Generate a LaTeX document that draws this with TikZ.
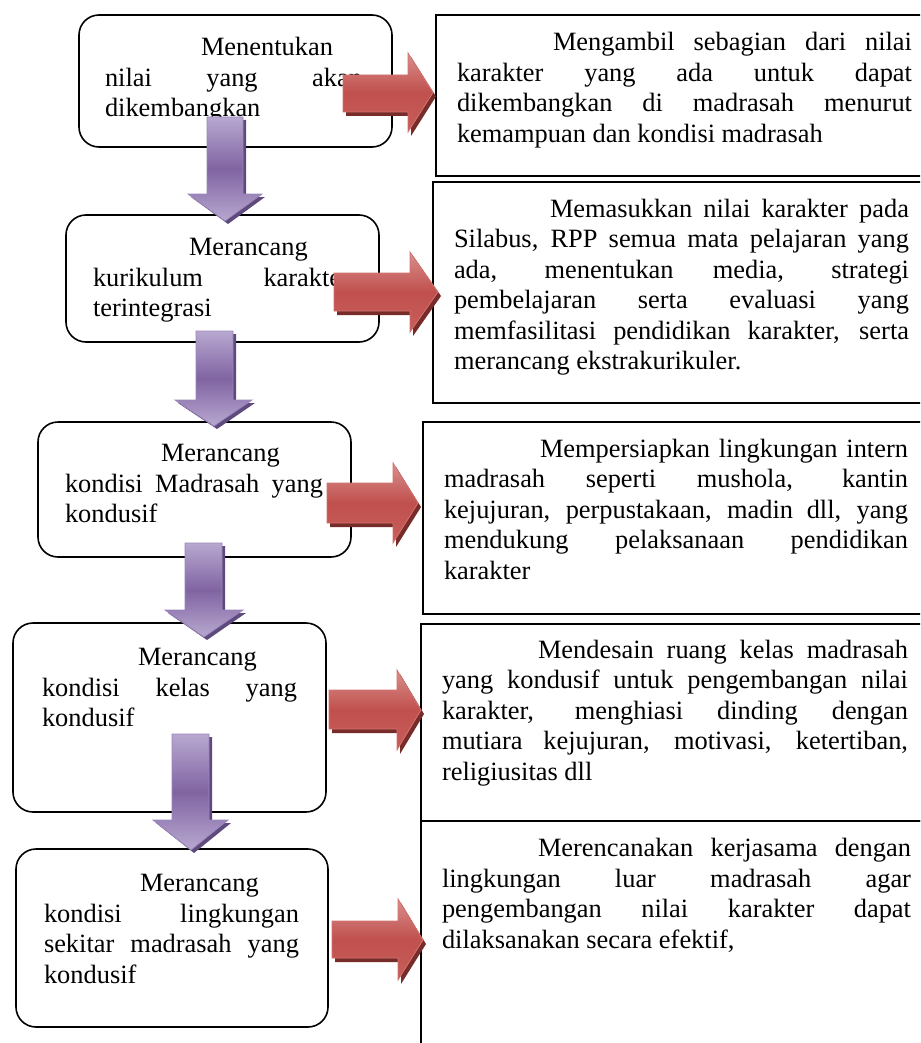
\documentclass[tikz,border=0pt]{standalone}
\usepackage{fontspec}
\setmainfont{Liberation Serif}
\definecolor{purplelight}{HTML}{B8A8D0}
\definecolor{purplemid}{HTML}{8064A2}
\definecolor{purpleedge}{HTML}{9A85BA}
\definecolor{purpleshadow}{HTML}{5E4A7D}
\definecolor{redlight}{HTML}{D98F8D}
\definecolor{redmid}{HTML}{C0504D}
\definecolor{redbottom}{HTML}{C85E5B}
\definecolor{rededge}{HTML}{D27370}
\definecolor{redshadow}{HTML}{772C2A}
\newcommand\jl[2]{\makebox[#1][s]{#2}}
\begin{document}
\begin{tikzpicture}[x=1pt,y=-1pt,
  lbox/.style={draw=black,line width=1.6pt,rounded corners=20pt,anchor=north west,outer sep=0pt,inner sep=0pt},
  rbox/.style={draw=black,line width=1.8pt,anchor=north west,outer sep=0pt,inner sep=0pt},
  txt/.style={anchor=north west,inner sep=0pt,outer sep=0pt,align=left,font=\fontsize{26.4}{30.5}\selectfont},
  parrow/.style={draw=purpleedge,line width=0.8pt,top color=purplelight,bottom color=purplelight,middle color=purplemid},
  pshadow/.style={fill=purpleshadow},
  rarrow/.style={draw=rededge,line width=0.8pt,top color=redlight,bottom color=redbottom,middle color=redmid},
  rshadow/.style={fill=redshadow}]
\useasboundingbox (0,0) rectangle (920,1043);
\clip (0,0) rectangle (920,1043);
\fill[white] (0,0) rectangle (920,1043);
% left rounded boxes
\node[lbox,minimum width=313pt,minimum height=132pt] (b1) at (79,15) {};
\node[lbox,minimum width=313pt,minimum height=127pt] (b2) at (66,215) {};
\node[lbox,minimum width=313pt,minimum height=135pt] (b3) at (38,422) {};
\node[lbox,minimum width=313pt,minimum height=189pt] (b4) at (13,623) {};
\node[lbox,minimum width=312pt,minimum height=178pt] (b5) at (16,849) {};
% right boxes
\node[rbox,minimum width=520pt,minimum height=161pt] (c1) at (436,15) {};
\node[rbox,minimum width=520pt,minimum height=221pt] (c2) at (433,182) {};
\node[rbox,minimum width=520pt,minimum height=192pt] (c3) at (423,422) {};
\node[rbox,minimum width=520pt,minimum height=197pt] (c4) at (421,624) {};
\node[rbox,minimum width=520pt,minimum height=260pt] (c5) at (421,821) {};
% left texts
\node[txt] (t1) at (105,34.2) {\strut\hspace*{96pt}Menentukan\\\jl{257pt}{nilai yang akan}\\dikembangkan};
\node[txt] (t2) at (93,234.2) {\strut\hspace*{96pt}Merancang\\\jl{257pt}{kurikulum karakter}\\terintegrasi};
\node[txt] (t3) at (65,440.2) {\strut\hspace*{96pt}Merancang\\\jl{258pt}{kondisi Madrasah yang}\\kondusif};
\node[txt] (t4) at (42,644.2) {\strut\hspace*{96pt}Merancang\\\jl{255pt}{kondisi kelas yang}\\kondusif};
\node[txt] (t5) at (44,870.2) {\strut\hspace*{96pt}Merancang\\\jl{255pt}{kondisi lingkungan}\\\jl{255pt}{sekitar madrasah yang}\\kondusif};
% right texts
\node[txt] (r1) at (457,29.2) {\strut\jl{455pt}{\hspace*{96pt}Mengambil sebagian dari nilai}\\\jl{455pt}{karakter yang ada untuk dapat}\\\jl{455pt}{dikembangkan di madrasah menurut}\\kemampuan dan kondisi madrasah};
\node[txt] (r2) at (454,195.7) {\strut\jl{455pt}{\hspace*{96pt}Memasukkan nilai karakter pada}\\\jl{455pt}{Silabus, RPP semua mata pelajaran yang}\\\jl{455pt}{ada, menentukan media, strategi}\\\jl{455pt}{pembelajaran serta evaluasi yang}\\\jl{455pt}{memfasilitasi pendidikan karakter, serta}\\merancang ekstrakurikuler.};
\node[txt] (r3) at (444,435.7) {\strut\jl{464pt}{\hspace*{96pt}Mempersiapkan lingkungan intern}\\\jl{464pt}{madrasah seperti mushola, kantin}\\\jl{464pt}{kejujuran, perpustakaan, madin dll, yang}\\\jl{464pt}{mendukung pelaksanaan pendidikan}\\karakter};
\node[txt] (r4) at (442,637) {\strut\jl{466pt}{\hspace*{96pt}Mendesain ruang kelas madrasah}\\\jl{466pt}{yang kondusif untuk pengembangan nilai}\\\jl{466pt}{karakter, menghiasi dinding dengan}\\\jl{466pt}{mutiara kejujuran, motivasi, ketertiban,}\\religiusitas dll};
\node[txt] (r5) at (442,835.4) {\strut\jl{469pt}{\hspace*{96pt}Merencanakan kerjasama dengan}\\\jl{469pt}{lingkungan luar madrasah agar}\\\jl{469pt}{pengembangan nilai karakter dapat}\\dilaksanakan secara efektif,};
% purple down arrows (shadow, then body)
\fill[pshadow,shift={(3,3)}] (207,117) -- (243,117) -- (243,194) -- (262,194) -- (225,221) -- (188,194) -- (207,194) -- cycle;
\path[parrow] (207,117) -- (243,117) -- (243,194) -- (262,194) -- (225,221) -- (188,194) -- (207,194) -- cycle;
\fill[pshadow,shift={(3,3)}] (196,331) -- (233,331) -- (233,400) -- (252,400) -- (214,426) -- (175,400) -- (196,400) -- cycle;
\path[parrow] (196,331) -- (233,331) -- (233,400) -- (252,400) -- (214,426) -- (175,400) -- (196,400) -- cycle;
\fill[pshadow,shift={(3,3)}] (185,543) -- (222,543) -- (222,610) -- (243,610) -- (204,637) -- (165,610) -- (185,610) -- cycle;
\path[parrow] (185,543) -- (222,543) -- (222,610) -- (243,610) -- (204,637) -- (165,610) -- (185,610) -- cycle;
\fill[pshadow,shift={(3,3)}] (172,734) -- (209,734) -- (209,820) -- (228,820) -- (191,850) -- (153,820) -- (172,820) -- cycle;
\path[parrow] (172,734) -- (209,734) -- (209,820) -- (228,820) -- (191,850) -- (153,820) -- (172,820) -- cycle;
% red right arrows (shadow, then body)
\fill[rshadow,shift={(3,4)}] (343,75) -- (408,75) -- (408,53) -- (433,92.5) -- (408,132) -- (408,112) -- (343,112) -- cycle;
\path[rarrow] (343,75) -- (408,75) -- (408,53) -- (433,92.5) -- (408,132) -- (408,112) -- (343,112) -- cycle;
\fill[rshadow,shift={(3,4)}] (334,273) -- (410,273) -- (410,252) -- (438,292) -- (410,332) -- (410,311) -- (334,311) -- cycle;
\path[rarrow] (334,273) -- (410,273) -- (410,252) -- (438,292) -- (410,332) -- (410,311) -- (334,311) -- cycle;
\fill[rshadow,shift={(3,4)}] (327,483) -- (393,483) -- (393,463) -- (418,503) -- (393,543) -- (393,523) -- (327,523) -- cycle;
\path[rarrow] (327,483) -- (393,483) -- (393,463) -- (418,503) -- (393,543) -- (393,523) -- (327,523) -- cycle;
\fill[rshadow,shift={(3,4)}] (329,690) -- (397,690) -- (397,670) -- (421,710) -- (397,750) -- (397,729) -- (329,729) -- cycle;
\path[rarrow] (329,690) -- (397,690) -- (397,670) -- (421,710) -- (397,750) -- (397,729) -- (329,729) -- cycle;
\fill[rshadow,shift={(3,4)}] (332,921) -- (398,921) -- (398,899) -- (423,940) -- (398,980) -- (398,958) -- (332,958) -- cycle;
\path[rarrow] (332,921) -- (398,921) -- (398,899) -- (423,940) -- (398,980) -- (398,958) -- (332,958) -- cycle;
\end{tikzpicture}
\end{document}
